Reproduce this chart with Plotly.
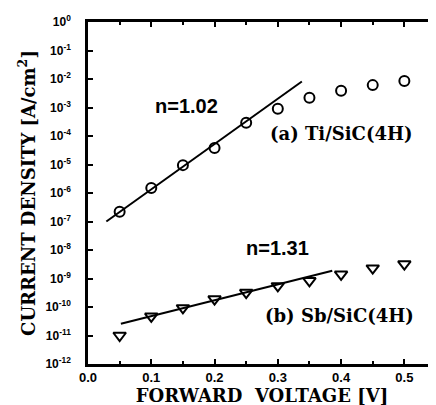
import plotly.graph_objects as go

# Data
voltage = [0.05, 0.10, 0.15, 0.20, 0.25, 0.30, 0.35, 0.40, 0.45, 0.50]
j_ti = [2.2e-7, 1.5e-6, 9.5e-6, 3.8e-5, 2.9e-4, 9.0e-4, 2.2e-3, 3.9e-3, 6.1e-3, 8.5e-3]
j_sb = [1.0e-11, 4.7e-11, 9.3e-11, 1.9e-10, 3.2e-10, 5.5e-10, 8.3e-10, 1.4e-9, 2.3e-9, 3.2e-9]

fit_ti_x = [0.029, 0.338]
fit_ti_y = [1.0e-7, 8.2e-3]
fit_sb_x = [0.052, 0.386]
fit_sb_y = [2.6e-11, 1.86e-9]

x_ticks = [0.0, 0.1, 0.2, 0.3, 0.4, 0.5]
x_ticktext = ["0.0", "0.1", "0.2", "0.3", "0.4", "0.5"]
y_exps = list(range(0, -13, -1))
y_ticks = [10.0 ** e for e in y_exps]
y_ticktext = ["<b>10<sup>%d</sup></b>" % e for e in y_exps]

labels = ["n=1.02", "(a) Ti/SiC(4H)", "n=1.31", "(b) Sb/SiC(4H)"]
label_x = [0.155, 0.40, 0.30, 0.397]
label_logy = [-2.93, -3.92, -7.94, -10.31]

SANS = "Liberation Sans, Arial, sans-serif"
SERIF = "DejaVu Serif, serif"

fig = go.Figure()
fig.add_trace(go.Scatter(x=fit_ti_x, y=fit_ti_y, mode="lines",
                         line=dict(color="black", width=2), showlegend=False))
fig.add_trace(go.Scatter(x=fit_sb_x, y=fit_sb_y, mode="lines",
                         line=dict(color="black", width=2), showlegend=False))
fig.add_trace(go.Scatter(x=voltage, y=j_ti, mode="markers",
                         marker=dict(symbol="circle-open", size=10, color="black",
                                     line=dict(width=2, color="black")),
                         showlegend=False))
fig.add_trace(go.Scatter(x=voltage, y=j_sb, mode="markers",
                         marker=dict(symbol="triangle-down-open", size=11, color="black",
                                     line=dict(width=2, color="black")),
                         showlegend=False))

fonts = [dict(family=SANS, size=20, color="black"),
         dict(family=SERIF, size=18, color="black"),
         dict(family=SANS, size=20, color="black"),
         dict(family=SERIF, size=18, color="black")]
for t, xv, yv, f in zip(labels, label_x, label_logy, fonts):
    fig.add_annotation(x=xv, y=yv, xref="x", yref="y", text="<b>%s</b>" % t,
                       showarrow=False, font=f, xanchor="center", yanchor="middle")

fig.update_layout(
    width=436, height=405,
    margin=dict(l=80, r=5, t=13, b=49),
    paper_bgcolor="white", plot_bgcolor="white",
    font=dict(family=SANS, color="black"),
)
fig.update_xaxes(
    range=[0, 0.55], tickvals=x_ticks, ticktext=["<b>%s</b>" % s for s in x_ticktext],
    ticks="inside", ticklen=5, tickwidth=2, tickcolor="black",
    showline=True, linecolor="black", linewidth=2.5, mirror="allticks",
    showgrid=False, zeroline=False,
    minor=dict(ticks="inside", dtick=0.05, ticklen=3, tickwidth=2, tickcolor="black", showgrid=False),
    tickfont=dict(family=SANS, size=13, color="black"),
    title=dict(text="<b>FORWARD  VOLTAGE [V]</b>", font=dict(family=SERIF, size=18, color="black"),
               standoff=3),
)
fig.update_yaxes(
    type="log", range=[-12, 0], tickvals=y_ticks, ticktext=y_ticktext,
    ticks="inside", ticklen=5, tickwidth=2, tickcolor="black",
    showline=True, linecolor="black", linewidth=2.5, mirror="ticks",
    showgrid=False, zeroline=False, ticklabelstandoff=12,
    tickfont=dict(family=SANS, size=12, color="black"),
    title=dict(text="<b>CURRENT DENSITY [A/cm<sup>2</sup>]</b>",
               font=dict(family=SERIF, size=18, color="black"), standoff=6),
)

fig.write_html("out.html")
